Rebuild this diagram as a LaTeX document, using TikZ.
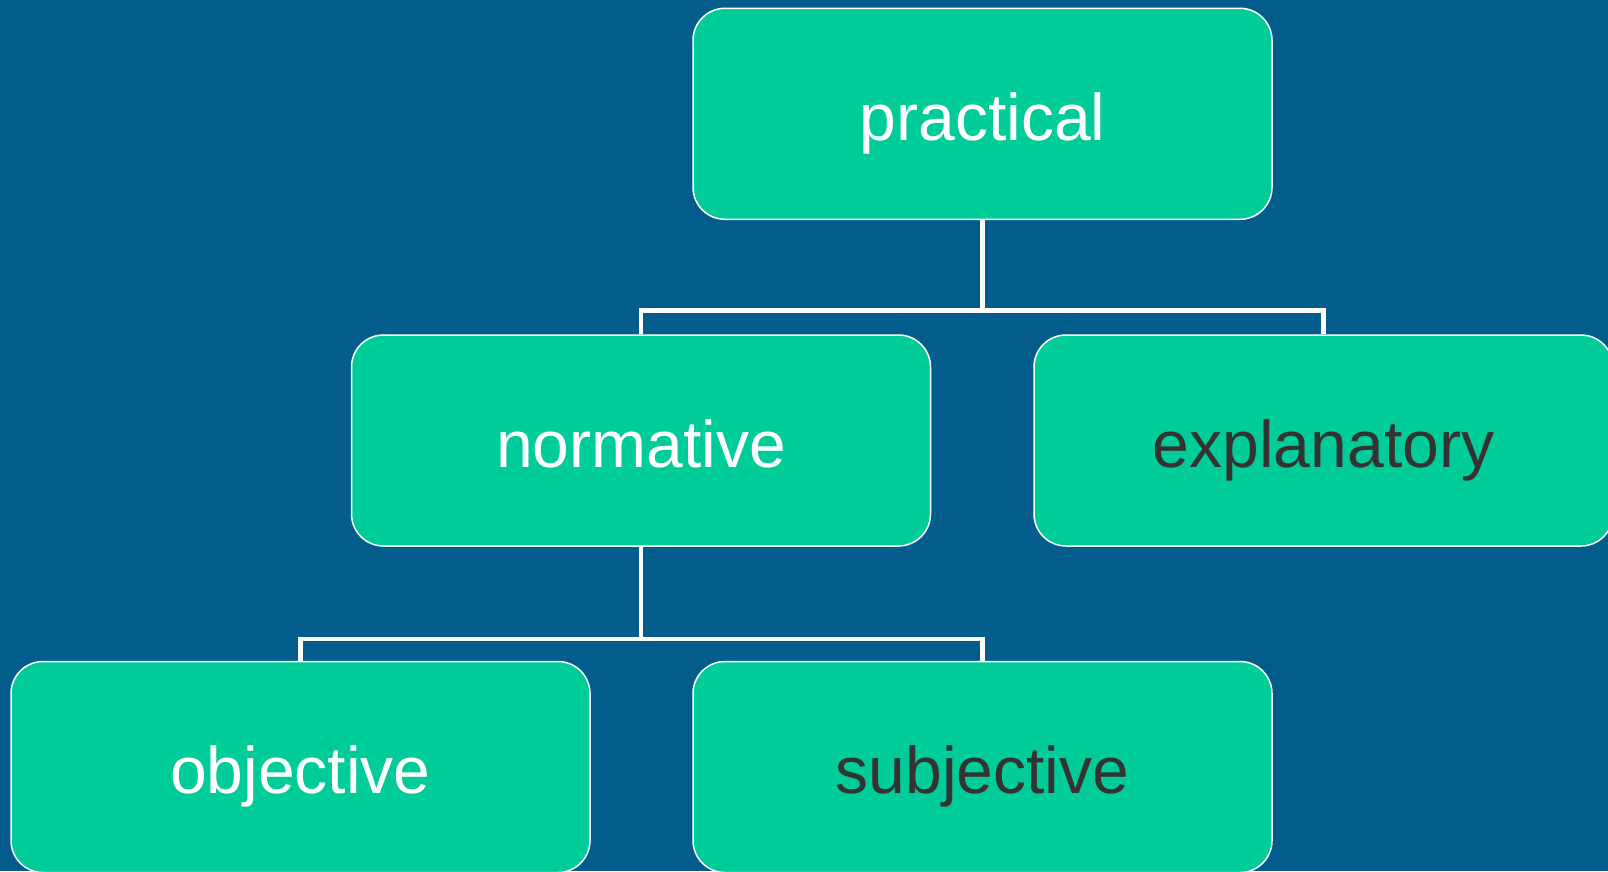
\documentclass[tikz,border=0pt]{standalone}
\usepackage{fontspec}
\setmainfont{Liberation Sans}
\definecolor{bgblue}{RGB}{2,92,140}
\definecolor{boxgreen}{RGB}{0,204,153}
\definecolor{darktext}{RGB}{51,51,51}
\begin{document}
\begin{tikzpicture}[x=1pt,y=-1pt,
  box/.style={rectangle, rounded corners=32pt, minimum width=579pt, minimum height=211pt,
    fill=boxgreen, draw=white, line width=1.5pt, inner sep=0pt,
    text height=53pt, text depth=0pt,
    font=\fontsize{66}{80}\selectfont},
  conn/.style={draw=white, line width=4.5pt}]
\useasboundingbox (0,0) rectangle (1608,871);
\fill[bgblue] (0,0) rectangle (1608,871);
\node[box, text=white] (practical) at (982.5,113.8) {practical};
\node[box, text=white] (normative) at (641,440.5) {normative};
\node[box, text=darktext] (explanatory) at (1323.5,440.5) {explanatory};
\node[box, text=white] (objective) at (300.5,767) {objective};
\node[box, text=darktext] (subjective) at (982.5,767) {subjective};
\draw[conn] (practical.south) -- ++(0,90.5) -| (normative.north);
\draw[conn] (practical.south) -- ++(0,90.5) -| (explanatory.north);
\draw[conn] (normative.south) -- ++(0,92) -| (objective.north);
\draw[conn] (normative.south) -- ++(0,92) -| (subjective.north);
\end{tikzpicture}
\end{document}
